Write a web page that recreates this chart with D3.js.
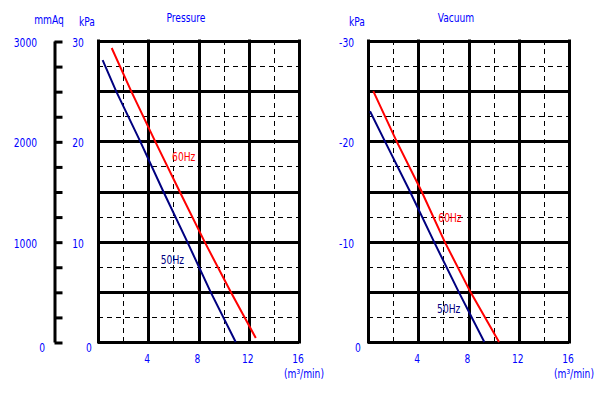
<!DOCTYPE html>
<html>
<head>
<meta charset="utf-8">
<script src="https://cdn.jsdelivr.net/npm/d3@7"></script>
<style>
body { margin: 0; background: #fff; }
text { font-family: "DejaVu Sans Condensed", "Liberation Sans", sans-serif; font-size: 13px; fill: #0000ff; }
</style>
</head>
<body>
<script>
// flow ticks (m3/min)
var flowTicks = [4, 8, 12, 16]
var mmAqTicks = [0, 1000, 2000, 3000]
var pressTicks = [0, 10, 20, 30]
var vacTicks = [0, -10, -20, -30]

// curves: [flow, kPa]
var press50 = [[0.37, 28.1], [1.44, 25], [3.36, 20], [5.2, 15], [7.1, 10], [8.96, 5], [10.96, 0]]
var press60 = [[1.09, 29.3], [2.64, 25], [4.55, 20], [6.5, 15], [8.48, 10], [10.56, 5], [12.56, 0.4]]
var vac50 = [[0.16, -23], [1.35, -20], [3.34, -15], [5.25, -10], [7.22, -5], [9.26, 0]]
var vac60 = [[0.42, -25], [2.28, -20], [4.27, -15], [6.1, -10], [8.15, -5], [10.43, 0]]

// where the curve names sit, [flow, kPa]
var pressLabels = [['60Hz', 5.9, 18], ['50Hz', 5.0, 7.8]]
var vacLabels = [['60Hz', 5.6, -12], ['50Hz', 5.5, -2.9]]

var svg = d3.select('body').append('svg')
	.attr('width', 609)
	.attr('height', 393)

svg.append('rect').attr('width', 609).attr('height', 393).attr('fill', '#fff')

function panel(left, top, yMax, c50, c60, names, title, ticks, zeroX) {
	var x = d3.scaleLinear().domain([0, 16]).range([left, left + 201])
	var y = d3.scaleLinear().domain([0, yMax]).range([342, top])
	var g = svg.append('g')
	var step = yMax / 6

	//dashed minor grid
	g.selectAll('.vmin').data([2, 6, 10, 14]).enter().append('line')
		.attr('x1', d => Math.round(x(d)) + 0.5).attr('x2', d => Math.round(x(d)) + 0.5)
		.attr('y1', y(0)).attr('y2', y(yMax))
		.attr('stroke', '#000').attr('stroke-dasharray', '5,4')
	g.selectAll('.hmin').data(d3.range(0, 6).map(i => step * (i + 0.5))).enter().append('line')
		.attr('y1', d => Math.round(y(d)) + 0.5).attr('y2', d => Math.round(y(d)) + 0.5)
		.attr('x1', x(0)).attr('x2', x(16))
		.attr('stroke', '#000').attr('stroke-dasharray', '5,4')

	//major grid
	g.selectAll('.vmaj').data([0, 4, 8, 12, 16]).enter().append('line')
		.attr('x1', d => Math.round(x(d)) + 0.5).attr('x2', d => Math.round(x(d)) + 0.5)
		.attr('y1', y(0) + 1.5).attr('y2', y(yMax) - 1.5)
		.attr('stroke', '#000').attr('stroke-width', 3)
	g.selectAll('.hmaj').data(d3.range(0, 7).map(i => step * i)).enter().append('line')
		.attr('y1', d => Math.round(y(d)) + 0.5).attr('y2', d => Math.round(y(d)) + 0.5)
		.attr('x1', x(0)).attr('x2', x(16))
		.attr('stroke', '#000').attr('stroke-width', 3)

	var line = d3.line().x(d => x(d[0])).y(d => y(d[1]))
	g.append('path').attr('d', line(c50)).attr('fill', 'none').attr('stroke', '#000080').attr('stroke-width', 2)
	g.append('path').attr('d', line(c60)).attr('fill', 'none').attr('stroke', '#ff0000').attr('stroke-width', 2)

	g.selectAll('.nm').data(names).enter().append('text')
		.attr('x', d => x(d[1])).attr('y', d => y(d[2]))
		.style('fill', d => d[0] == '60Hz' ? '#ff0000' : '#000080')
		.text(d => d[0])

	//flow labels
	g.selectAll('.xl').data(flowTicks).enter().append('text')
		.attr('x', d => x(d) - 1).attr('y', 363)
		.attr('text-anchor', 'middle')
		.text(d => d)
	g.append('text').attr('x', x(16) + 5).attr('y', 378).attr('text-anchor', 'middle').text('(m³/min)')

	//kPa labels
	g.selectAll('.yl').data(ticks).enter().append('text')
		.attr('x', d => d == 0 ? zeroX : (yMax < 0 ? left - 14 : left - 20))
		.attr('y', d => d == 0 ? y(d) + 10 : y(d) + 6)
		.attr('text-anchor', d => d == 0 ? 'middle' : (yMax < 0 ? 'end' : 'middle'))
		.text(d => d)
	g.append('text').attr('x', left - 11).attr('y', 26).attr('text-anchor', 'middle').text('kPa')
	g.append('text').attr('x', x(7)).attr('y', 22).attr('text-anchor', 'middle').text(title)
	return g
}

panel(98, 41, 30, press50, press60, pressLabels, 'Pressure', pressTicks, 89)
panel(368, 41, -30, vac50, vac60, vacLabels, 'Vacuum', vacTicks, 358)

// mmAq axis
var mm = d3.scaleLinear().domain([0, 3000]).range([342, 41])
var mmAxis = svg.append('g')
	.attr('transform', 'translate(54.5,0)')
	.call(d3.axisRight(mm).tickValues(d3.range(0, 3001, 250)).tickSize(8).tickSizeOuter(0).tickFormat(''))
mmAxis.selectAll('line, path').attr('stroke', '#000').attr('stroke-width', 3)
mmAxis.selectAll('line').attr('y1', 0.5).attr('y2', 0.5)

svg.selectAll('.mml').data(mmAqTicks).enter().append('text')
	.attr('x', d => d == 0 ? 45 : 37)
	.attr('y', d => d == 0 ? mm(d) + 10 : mm(d) + 6)
	.attr('text-anchor', 'end')
	.text(d => d)
svg.append('text').attr('x', 49).attr('y', 24).attr('text-anchor', 'middle').text('mmAq')

// the source uses a narrow font: squeeze every label
svg.selectAll('text').each(function () {
	var w = this.getComputedTextLength()
	d3.select(this).attr('textLength', w * 0.78).attr('lengthAdjust', 'spacingAndGlyphs')
})
</script>
</body>
</html>
